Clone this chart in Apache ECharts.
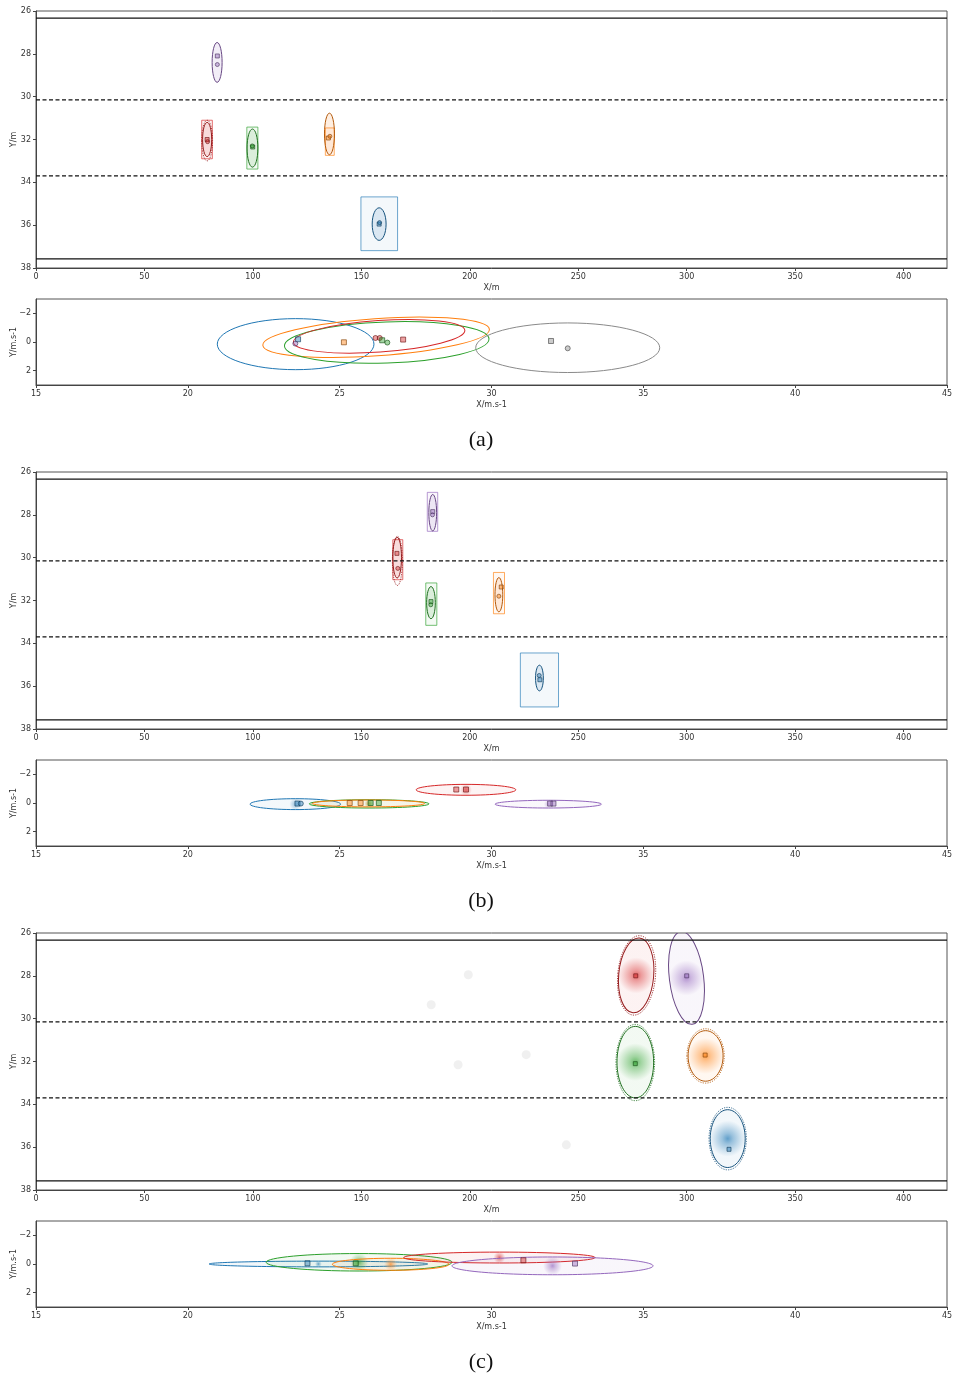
<!DOCTYPE html>
<html><head><meta charset="utf-8">
<script src="https://cdn.jsdelivr.net/npm/echarts@6/dist/echarts.min.js"></script>
<style>html,body{margin:0;padding:0;background:#fff}#c{width:953px;height:1378px}</style>
</head><body><div id="c"></div><script>
// ---------------- DATA ----------------
const X_POS_TICKS = [0, 50, 100, 150, 200, 250, 300, 350, 400];
const Y_POS_TICKS = [26, 28, 30, 32, 34, 36, 38];
const X_VEL_TICKS = [15, 20, 25, 30, 35, 40, 45];
const Y_VEL_TICKS = [-2, 0, 2];
const CAPTIONS = ['(a)', '(b)', '(c)'];

const LANE_SOLID = [26.33, 37.57];
const LANE_DASHED = [30.15, 33.7];

// ellipses: [color, cx, cy, rx, ry, rotationDeg, dotted]
// boxes: [color, x1, y1, x2, y2]
// markers: [color, x, y, symbol]
const A_POS_ELLIPSES = [
  ['purple', 83.5, 28.4, 2.3, 0.93, 0, 0],
  ['red', 78.9, 32.0, 2.1, 0.8, 0, 0],
  ['red', 78.9, 32.05, 2.5, 0.95, 0, 1],
  ['green', 99.8, 32.4, 2.5, 0.89, 0, 0],
  ['orange', 135.3, 31.74, 2.3, 0.97, 0, 0],
  ['blue', 158.2, 35.95, 3.2, 0.76, 0, 0]
];
const A_POS_BOXES = [
  ['red', 76.4, 31.1, 81.3, 32.9],
  ['green', 97.2, 31.42, 102.3, 33.38],
  ['orange', 133.4, 31.46, 137.5, 32.74],
  ['blue', 149.8, 34.68, 166.7, 37.19]
];
const A_POS_MARKERS = [
  ['purple', 83.6, 28.1, 'rect'], ['purple', 83.6, 28.5, 'circle'],
  ['red', 78.9, 32.0, 'rect'], ['red', 79.1, 32.1, 'circle'],
  ['green', 99.9, 32.35, 'rect'], ['green', 99.7, 32.3, 'circle'],
  ['orange', 134.8, 31.93, 'rect'], ['orange', 135.5, 31.85, 'circle'],
  ['blue', 158.2, 35.95, 'rect'], ['blue', 158.4, 35.88, 'circle']
];
const A_VEL_ELLIPSES = [
  ['blue', 23.55, 0.15, 2.58, 1.78, 0, 0],
  ['orange', 26.2, -0.33, 3.74, 1.3, 4, 0],
  ['green', 26.55, 0.03, 3.37, 1.43, 2, 0],
  ['red', 26.3, -0.4, 2.83, 1.1, 4, 0],
  ['gray', 32.51, 0.4, 3.03, 1.73, 0, 0]
];
const A_VEL_MARKERS = [
  ['blue', 23.63, -0.19, 'rect'], ['purple', 23.54, 0.11, 'circle'],
  ['orange', 25.14, 0.02, 'rect'], ['red', 26.18, -0.28, 'circle'], ['red', 26.32, -0.28, 'circle'],
  ['green', 26.40, -0.12, 'rect'], ['green', 26.57, 0.04, 'circle'], ['red', 27.09, -0.17, 'rect'],
  ['gray', 31.96, -0.07, 'rect'], ['gray', 32.51, 0.44, 'circle']
];

const B_POS_ELLIPSES = [
  ['purple', 182.9, 27.9, 1.8, 0.85, 0, 0],
  ['red', 166.5, 30.0, 2.0, 0.95, 0, 0],
  ['red', 166.6, 30.15, 2.3, 1.15, 0, 1],
  ['green', 182.1, 32.1, 2.0, 0.75, 0, 0],
  ['orange', 213.4, 31.73, 1.8, 0.8, 0, 0],
  ['blue', 232.1, 35.62, 1.8, 0.6, 0, 0]
];
const B_POS_BOXES = [
  ['purple', 180.4, 26.95, 185.2, 28.77],
  ['red', 164.5, 29.16, 169.1, 31.03],
  ['green', 179.7, 31.18, 184.8, 33.16],
  ['orange', 210.9, 30.69, 216.0, 32.62],
  ['blue', 223.3, 34.45, 240.9, 36.97]
];
const B_POS_MARKERS = [
  ['purple', 182.9, 27.85, 'rect'], ['purple', 182.8, 28.0, 'circle'],
  ['red', 166.4, 29.8, 'rect'], ['red', 166.8, 30.5, 'circle'],
  ['green', 182.1, 32.05, 'rect'], ['green', 182.0, 32.2, 'circle'],
  ['orange', 214.5, 31.37, 'rect'], ['orange', 213.4, 31.8, 'circle'],
  ['blue', 232.3, 35.7, 'rect'], ['blue', 232.0, 35.5, 'circle']
];
const B_VEL_ELLIPSES = [
  ['blue', 23.54, 0.08, 1.49, 0.38, 0, 0],
  ['green', 25.97, 0.06, 1.97, 0.29, 0, 0],
  ['orange', 25.95, 0.03, 1.85, 0.24, 0, 0],
  ['red', 29.16, -0.92, 1.64, 0.38, 0, 0],
  ['purple', 31.87, 0.08, 1.75, 0.27, 0, 0]
];
const B_VEL_MARKERS = [
  ['blue', 23.61, 0.04, 'rect'], ['blue', 23.72, 0.04, 'circle'],
  ['orange', 25.33, 0.0, 'rect'], ['orange', 25.69, 0.0, 'rect'],
  ['green', 26.02, 0.0, 'rect'], ['green', 26.29, 0.0, 'rect'],
  ['red', 28.84, -0.94, 'rect'], ['red', 29.16, -0.94, 'rect'],
  ['purple', 31.93, 0.04, 'rect'], ['purple', 32.04, 0.04, 'rect']
];

const C_POS_ELLIPSES = [
  ['red', 276.7, 27.98, 8.07, 1.75, -5, 0],
  ['red', 276.9, 27.98, 8.7, 1.86, -5, 1],
  ['purple', 299.9, 28.1, 7.9, 2.18, 7, 0],
  ['green', 276.3, 32.03, 8.45, 1.67, 0, 0],
  ['green', 276.3, 32.05, 8.9, 1.78, 0, 1],
  ['orange', 308.7, 31.74, 8.07, 1.18, 0, 0],
  ['orange', 308.7, 31.74, 8.6, 1.27, 0, 1],
  ['blue', 318.9, 35.6, 8.07, 1.35, 0, 0],
  ['blue', 318.9, 35.6, 8.6, 1.46, 0, 1]
];
const C_POS_BOXES = [];
const C_POS_MARKERS = [
  ['red', 276.5, 28.0, 'rect'], ['purple', 300.0, 28.0, 'rect'],
  ['green', 276.3, 32.1, 'rect'], ['orange', 308.5, 31.7, 'rect'],
  ['blue', 319.5, 36.1, 'rect']
];
const C_POS_GHOSTS = [[199.3, 27.95], [182.2, 29.35], [194.6, 32.15], [226.0, 31.68], [244.5, 35.89]];
const C_VEL_ELLIPSES = [
  ['blue', 24.3, 0.0, 3.6, 0.2, 0, 0],
  ['green', 25.64, -0.12, 3.06, 0.61, 0, 0],
  ['orange', 26.68, 0.02, 1.92, 0.42, 0, 0],
  ['red', 30.26, -0.45, 3.15, 0.38, 0, 0],
  ['purple', 32.01, 0.13, 3.31, 0.62, 0, 0]
];
const C_VEL_MARKERS = [
  ['blue', 23.94, -0.05, 'rect'], ['green', 25.53, -0.05, 'rect'],
  ['red', 31.05, -0.26, 'rect'], ['purple', 32.75, -0.03, 'rect']
];

// ---------------- STYLE / BUILD ----------------
const COLORS = { blue: '#1f77b4', orange: '#ff7f0e', green: '#2ca02c', red: '#d62728', purple: '#9467bd', gray: '#8a8a8a' };
const FONT = 'DejaVu Sans';
function rgba(hex, a) {
  const n = parseInt(hex.slice(1), 16);
  return 'rgba(' + ((n >> 16) & 255) + ',' + ((n >> 8) & 255) + ',' + (n & 255) + ',' + a + ')';
}
function darken(hex, f) {
  const n = parseInt(hex.slice(1), 16);
  const r = Math.round(((n >> 16) & 255) * (1 - f)), g = Math.round(((n >> 8) & 255) * (1 - f)), b = Math.round((n & 255) * (1 - f));
  return 'rgb(' + r + ',' + g + ',' + b + ')';
}

const panels = [
  { pos: [A_POS_ELLIPSES, A_POS_BOXES, A_POS_MARKERS, []], vel: [A_VEL_ELLIPSES, A_VEL_MARKERS], posFill: 'light', velFill: 'none' },
  { pos: [B_POS_ELLIPSES, B_POS_BOXES, B_POS_MARKERS, []], vel: [B_VEL_ELLIPSES, B_VEL_MARKERS], posFill: 'light', velFill: 'grad' },
  { pos: [C_POS_ELLIPSES, C_POS_BOXES, C_POS_MARKERS, C_POS_GHOSTS], vel: [C_VEL_ELLIPSES, C_VEL_MARKERS], posFill: 'cloud', velFill: 'cloud' }
];

const PANEL_STEP = 461;
const grids = [], xAxes = [], yAxes = [], series = [], graphics = [];
const axisCommon = {
  axisLine: { show: true, onZero: false, lineStyle: { color: '#444', width: 1 } },
  splitLine: { show: false },
  nameMoveOverlap: false,
  nameTextStyle: { fontSize: 8, color: '#333', fontFamily: FONT }
};
function fmt(v) { return v < 0 ? '\u2212' + (-v) : String(v); }

function ellipseSeries(g, list, fillMode, darkStroke) {
  return {
    type: 'custom', xAxisIndex: g, yAxisIndex: g, clip: true, z: 3,
    data: list.map(e => [e[1], e[2], e[3], e[4]]),
    encode: { x: 0, y: 1 },
    renderItem: function (params, api) {
      const e = list[params.dataIndex];
      const col = COLORS[e[0]];
      const c = api.coord([api.value(0), api.value(1)]);
      const s = api.size([api.value(2), api.value(3)]);
      let fill = 'none';
      if (!e[6]) {
        if (fillMode === 'light') fill = rgba(col, 0.12);
        else if (fillMode === 'grad') fill = { type: 'radial', x: 0.5, y: 0.5, r: 0.5, colorStops: [{ offset: 0, color: rgba(col, 0.45) }, { offset: 1, color: rgba(col, 0.05) }] };
        else if (fillMode === 'cloud') fill = { type: 'radial', x: 0.5, y: 0.5, r: 0.5, colorStops: [{ offset: 0, color: rgba(col, 0.7) }, { offset: 0.3, color: rgba(col, 0.45) }, { offset: 0.7, color: rgba(col, 0.22) }, { offset: 1, color: rgba(col, 0.06) }] };
      }
      return {
        type: 'ellipse', x: c[0], y: c[1], rotation: (e[5] || 0) * Math.PI / 180,
        shape: { cx: 0, cy: 0, rx: Math.abs(s[0]), ry: Math.abs(s[1]) },
        style: { fill: fill, stroke: darkStroke ? darken(col, 0.3) : col, lineWidth: e[6] ? 0.8 : 1, lineDash: e[6] ? [1.2, 1.2] : null }
      };
    }
  };
}
function boxSeries(g, list) {
  return {
    type: 'custom', xAxisIndex: g, yAxisIndex: g, clip: true, z: 2,
    data: list.map(b => [b[1], b[2], b[3], b[4]]),
    encode: { x: [0, 2], y: [1, 3] },
    renderItem: function (params, api) {
      const b = list[params.dataIndex];
      const col = COLORS[b[0]];
      const p1 = api.coord([api.value(0), api.value(1)]);
      const p2 = api.coord([api.value(2), api.value(3)]);
      return {
        type: 'rect',
        shape: { x: Math.min(p1[0], p2[0]), y: Math.min(p1[1], p2[1]), width: Math.abs(p2[0] - p1[0]), height: Math.abs(p2[1] - p1[1]) },
        style: { fill: rgba(col, 0.05), stroke: rgba(col, 0.65), lineWidth: 1 }
      };
    }
  };
}
function markerSeries(g, list, size) {
  return {
    type: 'scatter', xAxisIndex: g, yAxisIndex: g, z: 5, silent: true,
    data: list.map(m => ({
      value: [m[1], m[2]], symbol: m[3], symbolSize: size,
      itemStyle: { color: rgba(COLORS[m[0]], 0.55), borderColor: darken(COLORS[m[0]], 0.5), borderWidth: 0.8 }
    }))
  };
}
function laneSeries(g, y, dashed) {
  return {
    type: 'line', xAxisIndex: g, yAxisIndex: g, z: 4, silent: true, symbol: 'none',
    data: [[0, y], [420, y]],
    lineStyle: { color: '#111', width: dashed ? 1.1 : 1.3, type: dashed ? [4, 2.5] : 'solid' }
  };
}

panels.forEach((p, i) => {
  const gPos = i * 2, gVel = i * 2 + 1;
  const off = i * PANEL_STEP;
  grids.push({ left: 36, right: 6, top: 11 + off, height: 257, show: true, borderColor: '#555', borderWidth: 1, containLabel: false, outerBoundsMode: 'none' });
  grids.push({ left: 36, right: 6, top: 299 + off, height: 86, show: true, borderColor: '#555', borderWidth: 1, containLabel: false, outerBoundsMode: 'none' });

  xAxes.push(Object.assign({}, axisCommon, {
    type: 'value', gridIndex: gPos, min: 0, max: 420, name: 'X/m', nameLocation: 'middle', nameGap: 16,
    axisTick: { show: true, length: 3, customValues: X_POS_TICKS, lineStyle: { color: '#444' } },
    axisLabel: { fontSize: 8, color: '#333', margin: 5, fontFamily: FONT, customValues: X_POS_TICKS }
  }));
  yAxes.push(Object.assign({}, axisCommon, {
    type: 'value', gridIndex: gPos, min: 26, max: 38, inverse: true, name: 'Y/m', nameLocation: 'middle', nameGap: 18,
    axisTick: { show: true, length: 3, customValues: Y_POS_TICKS, lineStyle: { color: '#444' } },
    axisLabel: { fontSize: 8, color: '#333', margin: 5, fontFamily: FONT, customValues: Y_POS_TICKS }
  }));
  xAxes.push(Object.assign({}, axisCommon, {
    type: 'value', gridIndex: gVel, min: 15, max: 45, name: 'X/m.s-1', nameLocation: 'middle', nameGap: 16,
    axisTick: { show: true, length: 3, customValues: X_VEL_TICKS, lineStyle: { color: '#444' } },
    axisLabel: { fontSize: 8, color: '#333', margin: 5, fontFamily: FONT, customValues: X_VEL_TICKS }
  }));
  yAxes.push(Object.assign({}, axisCommon, {
    type: 'value', gridIndex: gVel, min: -3, max: 3, inverse: true, name: 'Y/m.s-1', nameLocation: 'middle', nameGap: 18,
    axisTick: { show: true, length: 3, customValues: Y_VEL_TICKS, lineStyle: { color: '#444' } },
    axisLabel: { fontSize: 8, color: '#333', margin: 5, fontFamily: FONT, customValues: Y_VEL_TICKS, formatter: fmt }
  }));

  const [pe, pb, pm, pg] = p.pos;
  if (pg.length) {
    series.push({
      type: 'scatter', xAxisIndex: gPos, yAxisIndex: gPos, z: 1, silent: true, symbolSize: 9,
      data: pg, itemStyle: { color: 'rgba(150,150,150,0.18)' }
    });
  }
  if (pb.length) series.push(boxSeries(gPos, pb));
  series.push(ellipseSeries(gPos, pe, p.posFill, true));
  LANE_SOLID.forEach(y => series.push(laneSeries(gPos, y, false)));
  LANE_DASHED.forEach(y => series.push(laneSeries(gPos, y, true)));
  series.push(markerSeries(gPos, pm, 4));

  const [ve, vm] = p.vel;
  series.push(ellipseSeries(gVel, ve, p.velFill, false));
  series.push(markerSeries(gVel, vm, 5));

  graphics.push({
    type: 'text', x: 481, y: 440 + off,
    style: { text: CAPTIONS[i], font: '22px "Liberation Serif", "Times New Roman", serif', fill: '#111', textAlign: 'center', textVerticalAlign: 'middle' }
  });
});

const chart = echarts.init(document.getElementById('c'), null, { renderer: 'canvas' });
chart.setOption({
  backgroundColor: '#fff',
  animation: false,
  grid: grids, xAxis: xAxes, yAxis: yAxes, series: series, graphic: graphics
});
</script></body></html>
